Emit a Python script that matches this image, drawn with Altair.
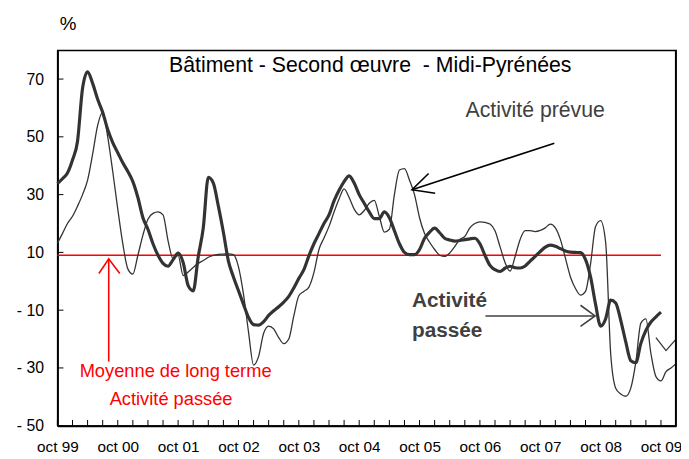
import altair as alt
import pandas as pd

# ---------------- data ----------------
x_labels = ["oct 99", "oct 00", "oct 01", "oct 02", "oct 03", "oct 04",
            "oct 05", "oct 06", "oct 07", "oct 08", "oct 09"]
x_label_months = [0, 12, 24, 36, 48, 60, 72, 84, 96, 108, 120]
x_tick_months = list(range(0, 121, 3))
y_tick_values = [70, 50, 30, 10, -10, -30, -50]
y_tick_labels = ["70", "50", "30", "10", "- 10", "- 30", "- 50"]

# Activité passée (thick line), monthly from oct 99 (month 0) to oct 09 (month 120)
passee = [33.8, 35.5, 37.5, 42, 48.5, 66.8, 72.5, 68.5, 63, 58.5,
          52.5, 48, 44.5, 41, 38, 34.5, 29, 22, 18, 13,
          9, 6.2, 5.2, 7.5, 9.8, 6.5, -1.5, -3.3, 8.5, 18.5,
          36, 34, 26, 17, 7, 1.5, -3.3, -8, -12.5, -15,
          -15.2, -14, -11.8, -10.2, -8.8, -7.2, -5.2, -2.3, 1, 4,
          8.8, 13, 16.5, 20, 23, 27.8, 31.5, 34.5, 36.5, 34,
          30, 27, 24, 21.7, 21.7, 24, 22, 17.5, 13, 10,
          9.2, 9.2, 11, 14.9, 17, 18.4, 16.8, 14.9, 14.3, 13.9,
          14.1, 14.4, 14.7, 14.9, 13, 9, 5.5, 4, 3.4, 4.5,
          5.2, 4.7, 4.6, 5.3, 7, 8.6, 10.3, 11.8, 12.5, 12.1,
          11.3, 10.5, 10.1, 10, 9.9, 7.5, 1.5, -8, -15.5, -13,
          -6.5, -7.5, -13.5, -21, -27.5, -28.2, -21.5, -17, -14.1, -12.3,
          -10.7]

# Activité prévue (thin line), monthly from oct 99 (month 0) to jan 10 (month 123)
prevue = [13.2, 16.5, 20, 22.5, 26, 30, 35, 44, 54, 58.5,
          50, 38, 25, 13, 4.3, 2.5, 9, 16, 21.5, 23.5,
          24, 23, 14, 7.8, 9, 2, 3.2, 4.8, 6.2, 7.2,
          8.3, 9, 9.3, 9.4, 9.5, 9.2, 5, -4.5, -17.6, -29,
          -26, -18, -15.5, -16.5, -19.5, -21.6, -20, -12, -5, -3.5,
          -2, 3, 11, 15, 19, 24, 28.5, 32, 29, 25,
          23, 24.5, 27, 28, 22.5, 17, 18, 30, 38.5, 39,
          35, 30, 22, 16.5, 13.5, 11, 9, 8.6, 9.8, 12,
          14.5, 15.5, 18.5, 20, 20.6, 20.4, 19.8, 17.5, 12, 6.5,
          3.5, 8.6, 14.5, 17.5, 17.5, 17.2, 17.6, 18.5, 19.8, 18.5,
          14.5, 8, 1.5, -2.5, -4.8, -3.5, 6, 19, 21, 13.5,
          -25, -37, -39, -39.8, -37, -28, -14.5, -13, -25, -33,
          -34.5, -31.3, -30, -28.5]

# short extra thin segment at the end
extra_months = [119, 121, 123]
extra_values = [-19.5, -24, -20]

long_term_mean = 9

# annotation anchors (data units: month, %)
arrow_prevue = [(98.8, 47.8), (70.5, 31.7)]
arrow_prevue_head = [(73.8, 37.3), (70.5, 31.7), (75.1, 30.5)]
arrow_passee = [(85.1, -12.0), (106.9, -12.0)]
arrow_passee_head = [(104.0, -8.3), (106.9, -12.0), (104.0, -15.6)]
arrow_mean = [(10.2, -27.8), (10.2, 7.8)]
arrow_mean_head = [(8.25, 2.7), (10.2, 7.8), (12.4, 2.7)]

FONT = "Liberation Sans"
X_MAX = 123
Y_MIN, Y_MAX = -50, 80
W, H = 626, 380

# ---------------- encodings ----------------
x_scale = alt.Scale(domain=[0, X_MAX], nice=False, zero=False)
y_scale = alt.Scale(domain=[Y_MIN, Y_MAX], nice=False, zero=False)

x_label_expr = ("[" + ",".join("'%s'" % s for s in x_labels) + "][indexof(["
                + ",".join(str(m) for m in x_label_months) + "], datum.value)]")
y_label_expr = ("[" + ",".join("'%s'" % s for s in y_tick_labels) + "][indexof(["
                + ",".join(str(m) for m in y_tick_values) + "], datum.value)]")

x_axis = alt.Axis(values=x_label_months, labelExpr=x_label_expr, title=None,
                  grid=False, ticks=False, domainColor="black", domainWidth=2,
                  labelFont=FONT, labelFontSize=15.5, labelColor="black",
                  labelPadding=14, labelAngle=0, labelOverlap=False, labelFlush=False)
y_axis = alt.Axis(values=y_tick_values, labelExpr=y_label_expr, title=None,
                  grid=False, ticks=False, domainColor="black", domainWidth=2,
                  labelFont=FONT, labelFontSize=16, labelColor="black",
                  labelPadding=14, labelBaseline="middle", labelOverlap=False, labelFlush=False)

X = alt.X("t:Q", scale=x_scale, axis=x_axis)
Y = alt.Y("v:Q", scale=y_scale, axis=y_axis)

# ---------------- layers ----------------
# frame: top and right border of the plot box (pixel positions of the view edges)
top_edge = alt.Chart(pd.DataFrame({"k": [0]})).mark_rule(color="black", strokeWidth=1.3).encode(
    x=alt.value(0), x2=alt.value(W), y=alt.value(0.5))
right_edge = alt.Chart(pd.DataFrame({"k": [0]})).mark_rule(color="black", strokeWidth=1.3).encode(
    x=alt.value(W - 0.5), y=alt.value(0), y2=alt.value(H))

xt_df = pd.DataFrame({"t": x_tick_months, "v": [Y_MIN] * len(x_tick_months),
                      "v2": [Y_MIN + 2] * len(x_tick_months)})
x_ticks = alt.Chart(xt_df).mark_rule(color="black", strokeWidth=1).encode(x=X, y=Y, y2="v2")

yt_df = pd.DataFrame({"v": y_tick_values, "t": [0] * len(y_tick_values),
                      "t2": [1.2] * len(y_tick_values)})
y_ticks = alt.Chart(yt_df).mark_rule(color="black", strokeWidth=1).encode(x=X, x2="t2", y=Y)

mean_df = pd.DataFrame({"t": [0], "t2": [120], "v": [long_term_mean]})
mean_rule = alt.Chart(mean_df).mark_rule(color="#ff0000", strokeWidth=1.5).encode(x=X, x2="t2", y=Y)

prevue_df = pd.DataFrame({"t": list(range(len(prevue))), "v": prevue})
thin = alt.Chart(prevue_df).mark_line(color="#333333", strokeWidth=1.3,
                                      interpolate="monotone").encode(x=X, y=Y)

extra_df = pd.DataFrame({"t": extra_months, "v": extra_values})
extra = alt.Chart(extra_df).mark_line(color="#333333", strokeWidth=1.3).encode(x=X, y=Y)

passee_df = pd.DataFrame({"t": list(range(len(passee))), "v": passee})
thick = alt.Chart(passee_df).mark_line(color="#333333", strokeWidth=3.2,
                                       interpolate="monotone").encode(x=X, y=Y)

rows = []
for seg, (pts, col) in enumerate([(arrow_prevue, "#000000"), (arrow_prevue_head, "#000000"),
                                  (arrow_passee, "#404040"), (arrow_passee_head, "#404040"),
                                  (arrow_mean, "#ff0000"), (arrow_mean_head, "#ff0000")]):
    for i, (t, v) in enumerate(pts):
        rows.append({"seg": seg, "o": i, "t": t, "v": v, "col": col})
arrows_df = pd.DataFrame(rows)
arrows = alt.Chart(arrows_df).mark_line(strokeWidth=1.6).encode(
    x=X, y=Y, detail="seg:N", order="o:Q", color=alt.Color("col:N", scale=None))

title_df = pd.DataFrame({"t": [62.2], "v": [72.5],
                         "txt": ["Bâtiment - Second œuvre \u00a0- Midi-Pyrénées"]})
title = alt.Chart(title_df).mark_text(font=FONT, fontSize=21.5, color="black",
                                      align="center", baseline="alphabetic").encode(x=X, y=Y, text="txt:N")

pct_df = pd.DataFrame({"t": [2.1], "v": [89.2], "txt": ["%"]})
pct = alt.Chart(pct_df).mark_text(font=FONT, fontSize=19, color="black",
                                  align="center", baseline="middle").encode(x=X, y=Y, text="txt:N")

prev_df = pd.DataFrame({"t": [95.0], "v": [56.7], "txt": ["Activité prévue"]})
prev_txt = alt.Chart(prev_df).mark_text(font=FONT, fontSize=21.5, color="#404040",
                                        align="center", baseline="alphabetic").encode(x=X, y=Y, text="txt:N")

pas_df = pd.DataFrame({"t": [70.5, 70.5], "v": [-9.0, -19.2], "txt": ["Activité", "passée"]})
pas_txt = alt.Chart(pas_df).mark_text(font=FONT, fontSize=21, fontWeight="bold", color="#404040",
                                      align="left", baseline="alphabetic").encode(x=X, y=Y, text="txt:N")

red_df = pd.DataFrame({"t": [23.5, 22.6], "v": [-33.3, -42.7],
                       "txt": ["Moyenne de long terme", "Activité passée"]})
red_txt = alt.Chart(red_df).mark_text(font=FONT, fontSize=18.5, color="#ff0000",
                                      align="center", baseline="alphabetic").encode(x=X, y=Y, text="txt:N")

chart = alt.layer(
    mean_rule, thin, extra, thick, x_ticks, y_ticks, arrows,
    title, pct, prev_txt, pas_txt, red_txt, top_edge, right_edge
).properties(
    width=W, height=H,
    padding={"left": 50, "top": 40, "right": 5, "bottom": 31},
    autosize=alt.AutoSizeParams(type="none"),
    background="white",
).configure_view(stroke="black", strokeWidth=1.3)

chart.save("out.html", embed_options={"renderer": "svg", "actions": False})
